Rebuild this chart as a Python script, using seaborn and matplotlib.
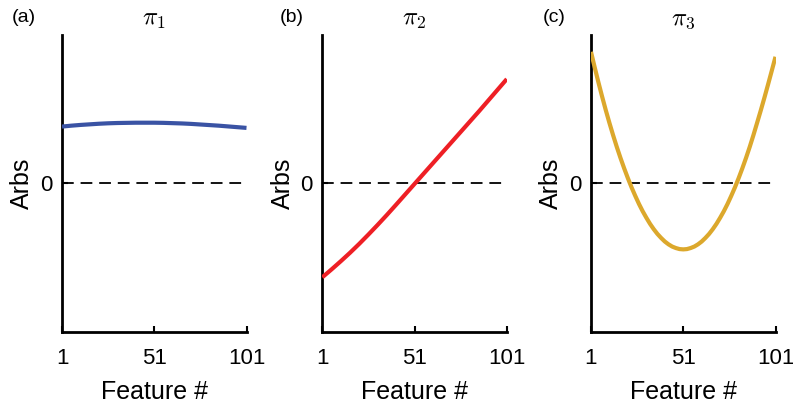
import matplotlib
matplotlib.use("Agg")
import matplotlib.pyplot as plt
import seaborn as sns
import pandas as pd

sns.set_theme(style="white")
plt.rcParams['font.family'] = ['Liberation Sans', 'DejaVu Sans']
plt.rcParams['mathtext.fontset'] = 'cm'

features = [1, 6, 11, 16, 21, 26, 31, 36, 41, 46, 51, 56, 61, 66, 71, 76, 81, 86, 91, 96, 101]
pi1 = [0.380, 0.386, 0.391, 0.395, 0.399, 0.402, 0.404, 0.405, 0.406, 0.406, 0.406,
       0.405, 0.403, 0.401, 0.398, 0.394, 0.390, 0.386, 0.381, 0.376, 0.371]
pi2 = [-0.635, -0.582, -0.527, -0.470, -0.410, -0.347, -0.282, -0.215, -0.146, -0.076, -0.006,
       0.064, 0.134, 0.204, 0.274, 0.344, 0.414, 0.484, 0.556, 0.628, 0.700]

features3 = list(range(1, 102, 2))
pi3 = [0.883, 0.779, 0.679, 0.583, 0.491, 0.404, 0.321, 0.242, 0.168, 0.098,
       0.032, -0.030, -0.087, -0.141, -0.190, -0.234, -0.275, -0.311, -0.343, -0.370,
       -0.394, -0.413, -0.428, -0.438, -0.445, -0.447, -0.445, -0.438, -0.428, -0.413,
       -0.394, -0.370, -0.343, -0.311, -0.275, -0.234, -0.190, -0.141, -0.087, -0.030,
       0.032, 0.098, 0.168, 0.242, 0.321, 0.404, 0.488, 0.575, 0.665, 0.757, 0.850]

titles = [r'$\pi_1$', r'$\pi_2$', r'$\pi_3$']
panel_labels = ['(a)', '(b)', '(c)']
colors = ['#3A53A4', '#EE1F25', '#DCA82C']
xs = [features, features, features3]
series = [pi1, pi2, pi3]
xticks = [1, 51, 101]
xticklabels = ['1', '51', '101']

fig = plt.figure(figsize=(7.93, 4.05), dpi=100)
W, H = 793, 405
lefts = [62 / W, 322.3 / W, 591 / W]
label_x = [-0.27, -0.23, -0.26]
for i in range(3):
    ax = fig.add_axes([lefts[i], 1 - 331.5 / H, 184.5 / W, 297 / H])
    df = pd.DataFrame({'Feature': xs[i], 'Value': series[i]})
    sns.lineplot(data=df, x='Feature', y='Value', ax=ax, color=colors[i],
                 linewidth=3.0, zorder=3, solid_capstyle='butt')
    ax.axhline(0, color='black', linewidth=1.3, dashes=(6.5, 3.8), zorder=2)
    ax.set_xlim(1, 101)
    ax.set_ylim(-1, 1)
    ax.set_xticks(xticks)
    ax.set_xticklabels(xticklabels)
    ax.set_yticks([0])
    ax.set_yticklabels(['0'])
    for s in ['top', 'right']:
        ax.spines[s].set_visible(False)
    for s in ['left', 'bottom']:
        ax.spines[s].set_color('black')
        ax.spines[s].set_linewidth(2.0)
    ax.tick_params(axis='x', direction='in', length=4, width=1.5, color='black',
                   labelsize=16, labelcolor='black', pad=12, bottom=True)
    ax.tick_params(axis='y', direction='in', length=4, width=1.5, color='black',
                   labelsize=16, labelcolor='black', pad=7, left=True)
    ax.set_xlabel('Feature #', fontsize=18, color='black', labelpad=8)
    ax.set_ylabel('Arbs', fontsize=18, color='black', labelpad=4)
    ax.set_title(titles[i], fontsize=18, color='black', pad=7)
    ax.text(label_x[i], 1.057, panel_labels[i], transform=ax.transAxes, fontsize=14,
            ha='left', va='center', color='black')

fig.savefig('out.png', dpi=100)
